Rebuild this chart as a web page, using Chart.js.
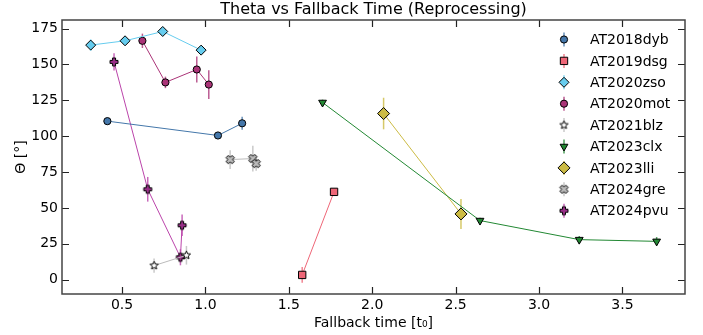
<!DOCTYPE html>
<html>
<head>
<meta charset="utf-8">
<script src="https://cdn.jsdelivr.net/npm/chart.js@4.4.0/dist/chart.umd.min.js"></script>
<style>
  html, body { margin: 0; padding: 0; background: #fff; }
</style>
</head>
<body>
<canvas id="chart" width="703" height="335"></canvas>
<script>
// values
const xTicks = [0.5, 1.0, 1.5, 2.0, 2.5, 3.0, 3.5];
const yTicks = [0, 25, 50, 75, 100, 125, 150, 175];

const dybX = [0.412, 1.075, 1.22];
const dybY = [110.5, 100.5, 109];
const dybErr = [2, 2, 4.5];

const dsgX = [1.58, 1.771];
const dsgY = [3.3, 61.2];
const dsgErr = [5.5, 2];

const zsoX = [0.312, 0.518, 0.744, 0.974];
const zsoY = [163.5, 166.5, 173, 160];
const zsoErr = [4, 2, 2, 2];

const motX = [0.622, 0.76, 0.948, 1.02];
const motY = [166.5, 137.5, 146.5, 136];
const motErr = [5, 4, 9, 10];

const blzX = [0.692, 0.886];
const blzY = [9.8, 17];
const blzErr = [5, 6.5];

const clxX = [1.702, 2.646, 3.241, 3.705];
const clxY = [123.5, 41.2, 27.9, 26.7];
const clxErr = [2, 2, 2.5, 3];

const lliX = [2.068, 2.532];
const lliY = [115.8, 45.8];
const lliErr = [11, 10.5];

const greX = [1.148, 1.284, 1.304];
const greY = [83.7, 84.4, 80.9];
const greErr = [6.5, 9, 5];

const pvuX = [0.452, 0.654, 0.85, 0.86];
const pvuY = [151.8, 63, 15.6, 37.9];
const pvuErr = [6, 8.6, 5.6, 7.5];

// small drawn markers for shapes Chart.js does not have filled
function makeMarker(kind, fill, r) {
  const s = Math.ceil(2 * r + 4);
  const cv = document.createElement("canvas");
  cv.width = s;
  cv.height = s;
  const g = cv.getContext("2d");
  const c = s / 2;
  g.beginPath();
  if (kind === "star") {
    for (let i = 0; i < 10; i++) {
      const a = -Math.PI / 2 + (i * Math.PI) / 5;
      const rr = i % 2 === 0 ? r : r * 0.45;
      g.lineTo(c + rr * Math.cos(a), c + rr * Math.sin(a));
    }
  } else {
    // filled plus, rotated for the X shape
    const w = r * 0.38;
    const pts = [
      [-w, -r], [w, -r], [w, -w], [r, -w], [r, w], [w, w],
      [w, r], [-w, r], [-w, w], [-r, w], [-r, -w], [-w, -w],
    ];
    const rot = kind === "x" ? Math.PI / 4 : 0;
    pts.forEach(([px, py]) => {
      const x = px * Math.cos(rot) - py * Math.sin(rot);
      const y = px * Math.sin(rot) + py * Math.cos(rot);
      g.lineTo(c + x, c + y);
    });
  }
  g.closePath();
  g.fillStyle = fill;
  g.fill();
  g.lineWidth = 1;
  g.strokeStyle = "#000";
  g.stroke();
  return cv;
}

const series = [
  { label: "AT2018dyb", xs: dybX, ys: dybY, err: dybErr, color: "#4477AA", style: "circle", r: 3.6 },
  { label: "AT2019dsg", xs: dsgX, ys: dsgY, err: dsgErr, color: "#EE6677", style: "rect", r: 5.2 },
  { label: "AT2020zso", xs: zsoX, ys: zsoY, err: zsoErr, color: "#66CCEE", style: "rectRot", r: 5 },
  { label: "AT2020mot", xs: motX, ys: motY, err: motErr, color: "#AA3377", style: "circle", r: 3.6 },
  { label: "AT2021blz", xs: blzX, ys: blzY, err: blzErr, color: "#BBBBBB", style: makeMarker("star", "#FFFFFF", 4.3) },
  { label: "AT2023clx", xs: clxX, ys: clxY, err: clxErr, color: "#228833", style: "triangle", r: 4.5, rot: 180 },
  { label: "AT2023lli", xs: lliX, ys: lliY, err: lliErr, color: "#CCBB44", style: "rectRot", r: 6 },
  { label: "AT2024gre", xs: greX, ys: greY, err: greErr, color: "#BBBBBB", style: makeMarker("x", "#BBBBBB", 4.3) },
  { label: "AT2024pvu", xs: pvuX, ys: pvuY, err: pvuErr, color: "#BB44AA", style: makeMarker("plus", "#992E88", 4) },
];

const datasets = series.map((s) => ({
  label: s.label,
  data: s.xs.map((x, i) => ({ x: x, y: s.ys[i] })),
  err: s.err,
  showLine: true,
  borderColor: s.color,
  borderWidth: 1,
  backgroundColor: s.color,
  pointStyle: s.style,
  pointRadius: s.r || 4,
  pointRotation: s.rot || 0,
  pointBorderColor: "#000",
  pointBorderWidth: 1,
  pointBackgroundColor: s.color,
}));

const FONT = "'DejaVu Sans', sans-serif";

// vertical error bars, drawn under each dataset
const errorBars = {
  id: "errorBars",
  beforeDatasetDraw(chart, args) {
    const ds = chart.data.datasets[args.index];
    const xs = chart.scales.x, ys = chart.scales.y;
    const ctx = chart.ctx;
    ctx.save();
    ctx.strokeStyle = ds.borderColor;
    ctx.globalAlpha = 0.8;
    ctx.lineWidth = 1.5;
    ds.data.forEach((p, i) => {
      const px = xs.getPixelForValue(p.x);
      ctx.beginPath();
      ctx.moveTo(px, ys.getPixelForValue(p.y - ds.err[i]));
      ctx.lineTo(px, ys.getPixelForValue(p.y + ds.err[i]));
      ctx.stroke();
    });
    ctx.restore();
  },
};

// frame, inward ticks on four sides, title and legend
const frame = {
  id: "frame",
  afterDraw(chart) {
    const { ctx, chartArea: a } = chart;
    const xs = chart.scales.x, ys = chart.scales.y;
    ctx.save();
    ctx.strokeStyle = "#222";
    ctx.lineWidth = 1.2;
    ctx.beginPath();
    xTicks.forEach((t) => {
      const px = Math.round(xs.getPixelForValue(t)) + 0.5;
      ctx.moveTo(px, a.bottom); ctx.lineTo(px, a.bottom - 7);
      ctx.moveTo(px, a.top); ctx.lineTo(px, a.top + 7);
    });
    yTicks.forEach((t) => {
      const py = Math.round(ys.getPixelForValue(t)) + 0.5;
      ctx.moveTo(a.left, py); ctx.lineTo(a.left + 7, py);
      ctx.moveTo(a.right, py); ctx.lineTo(a.right - 7, py);
    });
    ctx.stroke();
    ctx.strokeStyle = "#444";
    ctx.lineWidth = 1.5;
    ctx.strokeRect(a.left, a.top, a.right - a.left, a.bottom - a.top);

    ctx.fillStyle = "#000";
    ctx.font = "16px " + FONT;
    ctx.textAlign = "center";
    ctx.textBaseline = "middle";
    ctx.fillText("Theta vs Fallback Time (Reprocessing)", (a.left + a.right) / 2, 10);

    // legend
    ctx.font = "14px " + FONT;
    ctx.textAlign = "left";
    series.forEach((s, i) => {
      const y = 39.5 + i * 21.4;
      const mx = 564;
      ctx.save();
      ctx.strokeStyle = s.color;
      ctx.globalAlpha = 0.8;
      ctx.lineWidth = 1.5;
      ctx.beginPath();
      ctx.moveTo(mx, y - 7);
      ctx.lineTo(mx, y + 7);
      ctx.stroke();
      ctx.restore();
      ctx.fillStyle = s.color;
      ctx.strokeStyle = "#000";
      ctx.lineWidth = 1;
      Chart.helpers.drawPoint(ctx, {
        pointStyle: s.style,
        radius: s.r || 4,
        rotation: s.rot || 0,
        borderWidth: 1,
      }, mx, y);
      ctx.fillStyle = "#000";
      ctx.fillText(s.label, 590, y + 1);
    });
    ctx.restore();
  },
};

new Chart(document.getElementById("chart"), {
  type: "scatter",
  data: { datasets: datasets },
  plugins: [errorBars, frame],
  options: {
    responsive: false,
    devicePixelRatio: 1,
    animation: false,
    layout: { padding: { top: 20, right: 18, left: 0, bottom: 0 } },
    plugins: { legend: { display: false }, tooltip: { enabled: false } },
    scales: {
      x: {
        type: "linear",
        min: 0.14,
        max: 3.875,
        afterBuildTicks: (scale) => { scale.ticks = xTicks.map((v) => ({ value: v })); },
        afterFit: (scale) => { scale.height = 41; },
        grid: { display: false, drawTicks: false },
        border: { display: false },
        ticks: {
          color: "#000",
          padding: 3,
          font: { family: FONT, size: 14 },
          callback: (v) => v.toFixed(1),
        },
        title: {
          display: true,
          text: "Fallback time [t₀]",
          color: "#000",
          font: { family: FONT, size: 14 },
          padding: { top: 0, bottom: 3 },
        },
      },
      y: {
        type: "linear",
        min: -10,
        max: 181,
        afterBuildTicks: (scale) => { scale.ticks = yTicks.map((v) => ({ value: v })); },
        afterFit: (scale) => { scale.width = 62; },
        grid: { display: false, drawTicks: false },
        border: { display: false },
        ticks: {
          color: "#000",
          padding: 4,
          font: { family: FONT, size: 14 },
        },
        title: {
          display: true,
          text: "Θ [°]",
          color: "#000",
          font: { family: FONT, size: 14 },
          padding: { top: 13, bottom: 0 },
        },
      },
    },
  },
});
</script>
</body>
</html>
